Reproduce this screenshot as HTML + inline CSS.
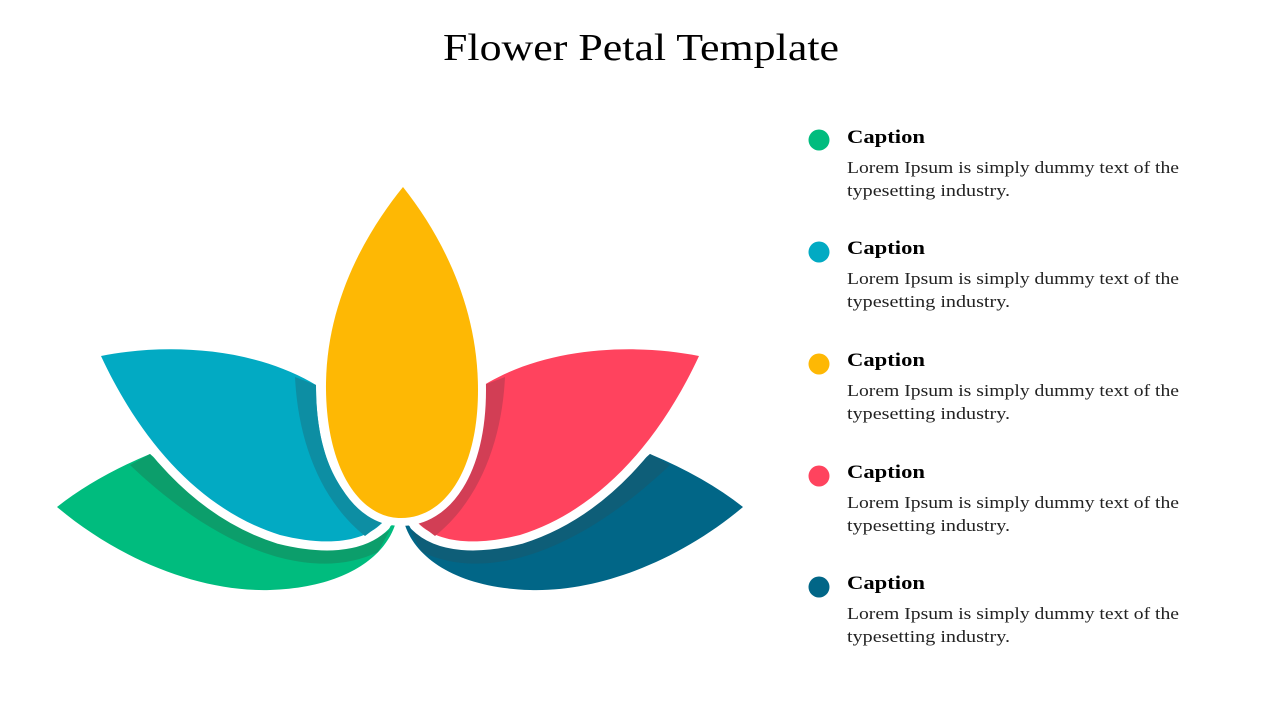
<!DOCTYPE html>
<html><head><meta charset="utf-8"><style>
html,body{margin:0;padding:0;background:#fff;}
svg{display:block;}
text{font-family:"Liberation Serif",serif;}
</style></head><body>
<svg width="1280" height="720" viewBox="0 0 1280 720" font-family="Liberation Serif, serif">
<text x="641" y="60" font-size="38" text-anchor="middle" fill="#000" textLength="396" lengthAdjust="spacingAndGlyphs">Flower Petal Template</text>

<g id="left">
  <path d="M57,507 C120,560 200,592 270,590 C340,588 385,560 396,522 C350,560 250,540 150,454 Q95,477 57,507 Z" fill="#00BC7E"/>
  <path d="M130,465 L150,454 C230,540 330,570 390,530 L378,552 C320,580 230,560 130,465 Z" fill="#0C9E6B"/>
  <path d="M101,356 C160,344 250,345 316,385 C316,450 335,500 382,523 C360,545 320,545 280,535 C200,510 140,440 101,356 Z" fill="#fff" stroke="#fff" stroke-width="18" stroke-linejoin="round"/>
  <path d="M101,356 C160,344 250,345 316,385 C316,450 335,500 382,523 C360,545 320,545 280,535 C200,510 140,440 101,356 Z" fill="#02AAC3"/>
  <path d="M295,377 L316,385 C316,450 335,500 382,523 L365,536 C320,500 298,440 295,377 Z" fill="#0D8EA3"/>
</g>
<g transform="translate(800,0) scale(-1,1)">
  <path d="M57,507 C120,560 200,592 270,590 C340,588 385,560 396,522 C350,560 250,540 150,454 Q95,477 57,507 Z" fill="#016687"/>
  <path d="M130,465 L150,454 C230,540 330,570 390,530 L378,552 C320,580 230,560 130,465 Z" fill="#0E5E78"/>
  <path d="M101,356 C160,344 250,345 316,385 C316,450 335,500 382,523 C360,545 320,545 280,535 C200,510 140,440 101,356 Z" fill="#fff" stroke="#fff" stroke-width="18" stroke-linejoin="round"/>
  <path d="M101,356 C160,344 250,345 316,385 C316,450 335,500 382,523 C360,545 320,545 280,535 C200,510 140,440 101,356 Z" fill="#FF435E"/>
  <path d="M295,377 L316,385 C316,450 335,500 382,523 L365,536 C320,500 298,440 295,377 Z" fill="#D23E55"/>
</g>
<path d="M403,187 C360,240 325,310 326,390 C327,470 360,518 401,518 C445,518 478,470 478,390 C478,310 445,240 403,187 Z" fill="#fff" stroke="#fff" stroke-width="16" stroke-linejoin="round"/>
<path d="M403,187 C360,240 325,310 326,390 C327,470 360,518 401,518 C445,518 478,470 478,390 C478,310 445,240 403,187 Z" fill="#FEB804"/>

<g font-size="17" fill="#222" font-family="Liberation Serif, serif">
  <circle cx="819" cy="140" r="10.5" fill="#00BC7E"/>
  <text x="847" y="143" font-size="19" font-weight="bold" fill="#000" textLength="78" lengthAdjust="spacingAndGlyphs">Caption</text>
  <text x="847" y="173" textLength="332" lengthAdjust="spacingAndGlyphs">Lorem Ipsum is simply dummy text of the</text>
  <text x="847" y="196" textLength="163" lengthAdjust="spacingAndGlyphs">typesetting industry.</text>

  <circle cx="819" cy="252" r="10.5" fill="#02AAC3"/>
  <text x="847" y="254" font-size="19" font-weight="bold" fill="#000" textLength="78" lengthAdjust="spacingAndGlyphs">Caption</text>
  <text x="847" y="284" textLength="332" lengthAdjust="spacingAndGlyphs">Lorem Ipsum is simply dummy text of the</text>
  <text x="847" y="307" textLength="163" lengthAdjust="spacingAndGlyphs">typesetting industry.</text>

  <circle cx="819" cy="364" r="10.5" fill="#FEB804"/>
  <text x="847" y="366" font-size="19" font-weight="bold" fill="#000" textLength="78" lengthAdjust="spacingAndGlyphs">Caption</text>
  <text x="847" y="396" textLength="332" lengthAdjust="spacingAndGlyphs">Lorem Ipsum is simply dummy text of the</text>
  <text x="847" y="419" textLength="163" lengthAdjust="spacingAndGlyphs">typesetting industry.</text>

  <circle cx="819" cy="476" r="10.5" fill="#FF435E"/>
  <text x="847" y="478" font-size="19" font-weight="bold" fill="#000" textLength="78" lengthAdjust="spacingAndGlyphs">Caption</text>
  <text x="847" y="508" textLength="332" lengthAdjust="spacingAndGlyphs">Lorem Ipsum is simply dummy text of the</text>
  <text x="847" y="531" textLength="163" lengthAdjust="spacingAndGlyphs">typesetting industry.</text>

  <circle cx="819" cy="587" r="10.5" fill="#016687"/>
  <text x="847" y="589" font-size="19" font-weight="bold" fill="#000" textLength="78" lengthAdjust="spacingAndGlyphs">Caption</text>
  <text x="847" y="619" textLength="332" lengthAdjust="spacingAndGlyphs">Lorem Ipsum is simply dummy text of the</text>
  <text x="847" y="642" textLength="163" lengthAdjust="spacingAndGlyphs">typesetting industry.</text>
</g>
</svg>
</body></html>
